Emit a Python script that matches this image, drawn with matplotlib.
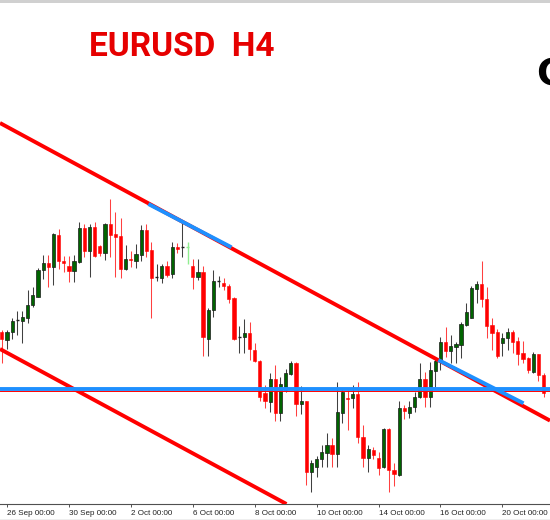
import matplotlib
matplotlib.use('Agg')
import matplotlib.pyplot as plt
from matplotlib.patches import Rectangle

# ---------------- data ----------------
# bar index 0 = 26 Sep 00:00 (H4 bars), first visible bar is index -1
first_bar = -1
opens = [1.16577, 1.16500, 1.16583, 1.16700, 1.16690, 1.16723, 1.16850, 1.16933, 1.17200, 1.17267,
         1.17227, 1.17550, 1.17293, 1.17240, 1.17193, 1.17283, 1.17623, 1.17390, 1.17633, 1.17440,
         1.17373, 1.17657, 1.17557, 1.17543, 1.17210, 1.17313, 1.17293, 1.17350, 1.17600, 1.17400,
         1.17127, 1.17117, 1.17240, 1.17157, 1.17427, 1.17427, 1.17427, 1.17240, 1.17133, 1.17183,
         1.16510, 1.16800, 1.17090, 1.17067, 1.17040, 1.16917, 1.16533, 1.16527, 1.16567, 1.16400,
         1.16290, 1.15970, 1.15883, 1.16107, 1.15773, 1.16000, 1.16157, 1.16267, 1.15860, 1.15893,
         1.15183, 1.15227, 1.15307, 1.15373, 1.15450, 1.15360, 1.15773, 1.15923, 1.15917, 1.15960,
         1.15527, 1.15317, 1.15400, 1.15317, 1.15227, 1.15607, 1.15200, 1.15150, 1.15817, 1.15773,
         1.15833, 1.15933, 1.16107, 1.15927, 1.16193, 1.16283, 1.16483, 1.16393, 1.16427, 1.16450,
         1.16650, 1.16723, 1.17010, 1.17057, 1.16907, 1.16650, 1.16583, 1.16473, 1.16517, 1.16583,
         1.16490, 1.16367, 1.16317, 1.16183, 1.16360, 1.16150]
highs = [1.16600, 1.16600, 1.16717, 1.16790, 1.16793, 1.17000, 1.17030, 1.17217, 1.17347, 1.17350,
         1.17573, 1.17607, 1.17340, 1.17340, 1.17350, 1.17683, 1.17660, 1.17660, 1.17683, 1.17450,
         1.17667, 1.17907, 1.17783, 1.17717, 1.17450, 1.17390, 1.17457, 1.17650, 1.17657, 1.17483,
         1.17260, 1.17260, 1.17293, 1.17483, 1.17467, 1.17667, 1.17483, 1.17307, 1.17310, 1.17240,
         1.16817, 1.17200, 1.17140, 1.17117, 1.17057, 1.16933, 1.16640, 1.16707, 1.16683, 1.16467,
         1.16300, 1.16050, 1.16167, 1.16250, 1.16133, 1.16207, 1.16293, 1.16283, 1.16040, 1.15893,
         1.15300, 1.15340, 1.15450, 1.15573, 1.15517, 1.16083, 1.16007, 1.16000, 1.16050, 1.16077,
         1.15650, 1.15450, 1.15430, 1.15383, 1.15617, 1.15617, 1.15273, 1.15893, 1.15850, 1.15893,
         1.15983, 1.16267, 1.16183, 1.16283, 1.16333, 1.16533, 1.16633, 1.16550, 1.16483, 1.16683,
         1.16867, 1.17040, 1.17093, 1.17290, 1.17027, 1.16717, 1.16607, 1.16567, 1.16623, 1.16600,
         1.16533, 1.16493, 1.16333, 1.16383, 1.16360, 1.16167]
lows = [1.16267, 1.16407, 1.16510, 1.16550, 1.16470, 1.16667, 1.16833, 1.16927, 1.17107, 1.17027,
        1.17050, 1.17207, 1.17183, 1.17083, 1.17083, 1.17273, 1.17333, 1.17133, 1.17333, 1.17340,
        1.17300, 1.17333, 1.17127, 1.17117, 1.17200, 1.17227, 1.17217, 1.17293, 1.17333, 1.16723,
        1.17093, 1.17067, 1.17127, 1.17117, 1.17367, 1.17333, 1.17260, 1.17010, 1.17100, 1.16343,
        1.16343, 1.16727, 1.17033, 1.17000, 1.16867, 1.16500, 1.16367, 1.16367, 1.16300, 1.16277,
        1.15890, 1.15820, 1.15780, 1.15690, 1.15693, 1.15983, 1.16150, 1.15740, 1.15760, 1.15050,
        1.14983, 1.15133, 1.15233, 1.15233, 1.15227, 1.15227, 1.15667, 1.15600, 1.15817, 1.15473,
        1.15233, 1.15183, 1.15310, 1.15145, 1.15217, 1.14983, 1.15040, 1.15140, 1.15707, 1.15717,
        1.15783, 1.15917, 1.15833, 1.15833, 1.16033, 1.16200, 1.16333, 1.16267, 1.16273, 1.16317,
        1.16640, 1.16717, 1.16873, 1.16833, 1.16523, 1.16400, 1.16317, 1.16343, 1.16400, 1.16367,
        1.16250, 1.16267, 1.16173, 1.16173, 1.16093, 1.15927]
closes = [1.16510, 1.16583, 1.16690, 1.16700, 1.16730, 1.16850, 1.16950, 1.17200, 1.17267, 1.17227,
          1.17557, 1.17293, 1.17267, 1.17190, 1.17290, 1.17623, 1.17390, 1.17630, 1.17343, 1.17373,
          1.17657, 1.17550, 1.17533, 1.17210, 1.17310, 1.17300, 1.17357, 1.17600, 1.17390, 1.17117,
          1.17127, 1.17240, 1.17150, 1.17427, 1.17413, 1.17427, 1.17427, 1.17127, 1.17183, 1.16533,
          1.16800, 1.17090, 1.17090, 1.17040, 1.16907, 1.16510, 1.16533, 1.16567, 1.16407, 1.16290,
          1.15933, 1.15890, 1.16107, 1.15773, 1.16057, 1.16167, 1.16267, 1.15860, 1.15893, 1.15183,
          1.15267, 1.15307, 1.15383, 1.15450, 1.15360, 1.15783, 1.15983, 1.15907, 1.15960, 1.15527,
          1.15317, 1.15407, 1.15345, 1.15225, 1.15607, 1.15200, 1.15160, 1.15817, 1.15793, 1.15833,
          1.15933, 1.16107, 1.15927, 1.16200, 1.16290, 1.16483, 1.16393, 1.16440, 1.16460, 1.16657,
          1.16777, 1.17017, 1.17057, 1.16907, 1.16643, 1.16573, 1.16343, 1.16523, 1.16583, 1.16483,
          1.16360, 1.16310, 1.16200, 1.16360, 1.16150, 1.15967]
special_bar = 35   # light-green marked candle

tick_bars = [0, 12, 24, 36, 48, 60, 72, 84, 96]
tick_labels = ["26 Sep 00:00", "30 Sep 00:00", "2 Oct 00:00", "6 Oct 00:00", "8 Oct 00:00",
               "10 Oct 00:00", "14 Oct 00:00", "16 Oct 00:00", "20 Oct 00:00"]

# trend lines (bar index, price)
upper_channel = [(0, 1.18632), (100, 1.15840)]
lower_channel = [(0, 1.16372), (50, 1.14976)]
blue_seg1 = [(27.4, 1.17860), (43.5, 1.17427)]
blue_seg2 = [(83.6, 1.16300), (100.1, 1.15867)]
level_blue = 1.16007
level_red = 1.15988

title = "EURUSD  H4"

# ---------------- figure ----------------
W, H = 550, 520
fig = plt.figure(figsize=(W / 100, H / 100), dpi=100)
fig.patch.set_facecolor('white')

ax = fig.add_axes([0, 16 / H, 1, 500 / H])
ax.set_facecolor('white')
ax.set_xlim(-1.357, 105.23)
ax.set_ylim(1.1486, 1.1986)

RED = '#FF0000'
BLUE = '#1E90FF'
GREEN = '#006400'
bw = 0.62

for k in range(len(opens)):
    x = first_bar + k
    o, h, l, c = opens[k], highs[k], lows[k], closes[k]
    if x == special_bar:
        ax.vlines(x, l, h, color='#90EE90', lw=1.0, zorder=2)
        ax.hlines(o, x - bw / 2, x + bw / 2, color='#90EE90', lw=1.0, zorder=3)
        continue
    if abs(c - o) < 1e-6:
        ax.vlines(x, l, h, color='#404040', lw=0.75, zorder=2)
        ax.hlines(o, x - bw / 2, x + bw / 2, color='#202020', lw=1.0, zorder=3)
    elif c > o:
        ax.vlines(x, l, h, color='#404040', lw=0.75, zorder=2)
        ax.add_patch(Rectangle((x - bw / 2, o), bw, c - o, facecolor=GREEN,
                               edgecolor='#1a1a1a', lw=0.5, zorder=3))
    else:
        ax.vlines(x, l, h, color='#FF4040', lw=0.75, zorder=2)
        ax.add_patch(Rectangle((x - bw / 2, c), bw, o - c, facecolor=RED,
                               edgecolor=RED, lw=0.4, zorder=3))

# horizontal levels
ax.axhline(level_red, color=RED, lw=0.7, zorder=4)
ax.axhline(level_blue, color=BLUE, lw=2.8, zorder=5)

# channel lines
ax.axline(upper_channel[0], upper_channel[1], color=RED, lw=2.8, zorder=4,
          solid_capstyle='butt')
ax.axline(lower_channel[0], lower_channel[1], color=RED, lw=2.8, zorder=4,
          solid_capstyle='butt')

# blue segments
for seg in (blue_seg1, blue_seg2):
    ax.plot([seg[0][0], seg[1][0]], [seg[0][1], seg[1][1]], color=BLUE, lw=2.8,
            zorder=6, solid_capstyle='butt')

# axes styling
for s in ('left', 'right', 'top'):
    ax.spines[s].set_visible(False)
ax.spines['bottom'].set_color('#505050')
ax.spines['bottom'].set_linewidth(0.8)
ax.set_yticks([])
ax.set_xticks(tick_bars)
ax.set_xticklabels(tick_labels, ha='left', fontsize=5.8, family='Liberation Sans',
                   color='#222222')
ax.tick_params(axis='x', length=2.5, width=0.7, pad=1.5, color='#505050')

# title and watermark glyph
fig.text(89 / W, 1 - 56 / H, title, color='#E60000', fontsize=24, fontweight='bold',
         family='Roboto', ha='left', va='baseline')
fig.text(536 / W, 1 - 76 / H, 'G', color='black', fontsize=27, fontweight='bold',
         ha='left', va='center')

# top frame band and bottom strip
fig.add_artist(Rectangle((0, 1 - 3 / H), 1, 3 / H, transform=fig.transFigure,
                         facecolor='#d0d0d0', edgecolor='none'))
fig.add_artist(Rectangle((0, 0), 1, 1.5 / H, transform=fig.transFigure,
                         facecolor='#eeeeee', edgecolor='none'))

fig.savefig('out.png', dpi=100, facecolor='white')
